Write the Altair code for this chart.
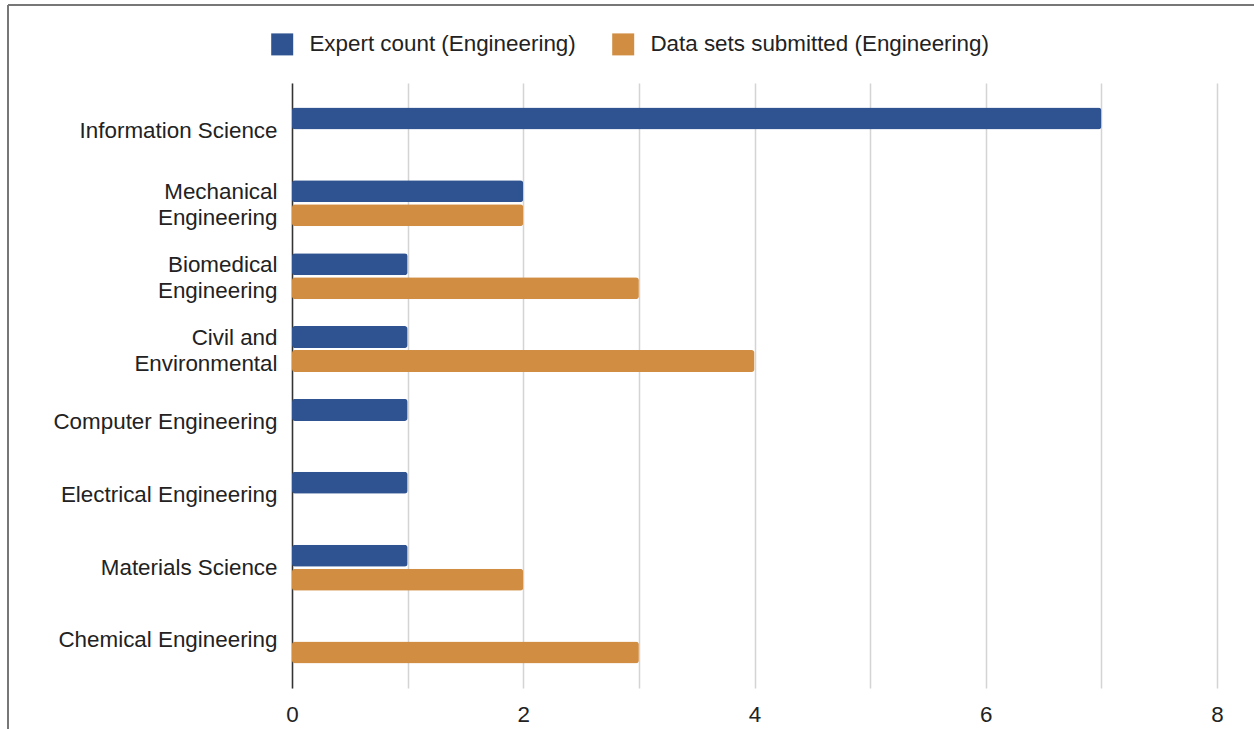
import altair as alt
import pandas as pd

# Engineering disciplines, top to bottom ("\n" marks a line break in the axis label)
categories = [
    "Information Science",
    "Mechanical\nEngineering",
    "Biomedical\nEngineering",
    "Civil and\nEnvironmental",
    "Computer Engineering",
    "Electrical Engineering",
    "Materials Science",
    "Chemical Engineering",
]
series = ["Expert count (Engineering)", "Data sets submitted (Engineering)"]
expert_count = [7, 2, 1, 1, 1, 1, 1, 0]
datasets_submitted = [0, 2, 3, 4, 0, 0, 2, 3]
colors = ["#2F5391", "#D18E42"]

rows = []
for cat, e, d in zip(categories, expert_count, datasets_submitted):
    rows.append({"category": cat, "series": series[0], "value": e})
    rows.append({"category": cat, "series": series[1], "value": d})
df = pd.DataFrame(rows)
df = df[df["value"] > 0]

FONT = "Liberation Sans"
TEXT = "#222222"
FS = 22.4

bars = alt.Chart(df).mark_bar(cornerRadius=3).encode(
    x=alt.X(
        "value:Q",
        scale=alt.Scale(domain=[0, 8], nice=False),
        axis=alt.Axis(
            values=list(range(9)),
            labelExpr="datum.value % 2 == 0 ? datum.label : ''",
            grid=True,
            gridColor="#d4d4d4",
            gridWidth=1.5,
            ticks=False,
            domain=False,
            title=None,
            labelFontSize=FS,
            labelPadding=15,
            labelFlush=False,
            labelColor=TEXT,
            labelFont=FONT,
        ),
    ),
    y=alt.Y(
        "category:N",
        sort=categories,
        scale=alt.Scale(paddingInner=0.369, paddingOuter=0.3365),
        axis=alt.Axis(
            title=None,
            ticks=False,
            grid=False,
            domain=True,
            domainColor="#333333",
            domainWidth=1.5,
            labelExpr="split(datum.label, '\\n')",
            # two-line labels are shifted up about half a line so they sit centred on the band
            labelOffset={
                "condition": {"test": "indexof(datum.value, '\\n') >= 0", "value": -11},
                "value": 0,
            },
            labelPadding=15,
            labelFontSize=FS,
            labelLineHeight=26,
            labelLimit=400,
            labelColor=TEXT,
            labelFont=FONT,
        ),
    ),
    yOffset=alt.YOffset(
        "series:N",
        sort=series,
        scale=alt.Scale(domain=series, paddingInner=0.083, paddingOuter=0),
    ),
    color=alt.Color(
        "series:N",
        sort=series,
        scale=alt.Scale(domain=series, range=colors),
        legend=alt.Legend(
            title=None,
            orient="none",
            legendX=-21,
            legendY=-50,
            direction="horizontal",
            symbolType="square",
            symbolSize=484,
            symbolStrokeWidth=0,
            symbolOpacity=1,
            labelFontSize=FS,
            labelFont=FONT,
            labelColor=TEXT,
            labelOffset=16,
            labelLimit=500,
            columnPadding=36,
            padding=0,
        ),
    ),
)

# Outer frame lines (left and top edges of the figure)
frame_df = pd.DataFrame({"k": [0]})
frame_left = alt.Chart(frame_df).mark_rule(color="#777777", strokeWidth=2).encode(
    x=alt.value(-284), y=alt.value(-78), y2=alt.value(660)
)
frame_top = alt.Chart(frame_df).mark_rule(color="#777777", strokeWidth=2).encode(
    x=alt.value(-284), x2=alt.value(980), y=alt.value(-78)
)

chart = (
    alt.layer(bars, frame_left, frame_top)
    .properties(
        width=925,
        height=605,
        autosize=alt.AutoSizeParams(type="none"),
        padding={"left": 292, "top": 83, "right": 37, "bottom": 41},
        background="white",
    )
    .configure_view(stroke=None)
)

chart.save("out.html", embed_options={"renderer": "svg", "actions": False})
